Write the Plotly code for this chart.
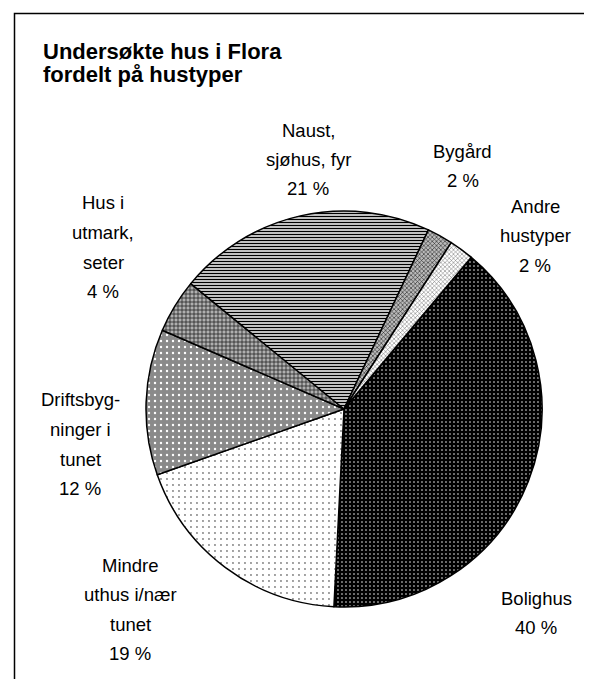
import plotly.graph_objects as go

W, H = 592, 679

# ---- data ----
categories = ["Bolighus", "Mindre\nuthus i/nær\ntunet", "Driftsbyg-\nninger i\ntunet",
              "Hus i\nutmark,\nseter", "Naust,\nsjøhus, fyr", "Bygård", "Andre\nhustyper"]
values = [39.7, 18.8, 11.9, 4.4, 21.1, 2.1, 2.0]
title_lines = ["Undersøkte hus i Flora", "fordelt på hustyper"]

# label anchor positions (pixels: x centre, y of first line)
label_pos = [(528, 590), (122, 557), (72, 392), (95, 195), (300, 122), (455, 143), (527, 198)]
line_gap = 29.5

patterns = [
    dict(shape=".", bgcolor="black", fgcolor="white", size=4, solidity=0.12),
    dict(shape=".", bgcolor="white", fgcolor="#808080", size=6, solidity=0.08),
    dict(shape=".", bgcolor="#8a8a8a", fgcolor="white", size=6, solidity=0.12),
    dict(shape="+", bgcolor="#b0b0b0", fgcolor="#202020", size=4, solidity=0.35),
    dict(shape="-", bgcolor="white", fgcolor="black", size=3, solidity=0.5),
    dict(shape="x", bgcolor="#bbbbbb", fgcolor="#202020", size=3, solidity=0.35),
    dict(shape="x", bgcolor="white", fgcolor="#666666", size=3, solidity=0.3),
]

# pie placement (pixels)
cx, cy, r = 336, 401, 198

fig = go.Figure()
fig.add_trace(go.Pie(
    labels=[c.replace("\n", " ") for c in categories],
    values=values,
    sort=False,
    direction="clockwise",
    rotation=40,
    textinfo="none",
    hoverinfo="label+percent",
    marker=dict(colors=[p["bgcolor"] for p in patterns],
                line=dict(color="black", width=1.5),
                pattern=dict(shape=[p["shape"] for p in patterns],
                             bgcolor=[p["bgcolor"] for p in patterns],
                             fgcolor=[p["fgcolor"] for p in patterns],
                             size=[p["size"] for p in patterns],
                             solidity=[p["solidity"] for p in patterns],
                             fillmode="replace")),
    domain=dict(x=[(cx - r) / W, (cx + r) / W], y=[1 - (cy + r) / H, 1 - (cy - r) / H]),
    showlegend=False,
))

anns = []
font = dict(family="Liberation Sans, Arial, sans-serif", size=18.5, color="black")
for cat, v, (px, py) in zip(categories, values, label_pos):
    lines = cat.split("\n") + [f"{round(v)} %"]
    for i, ln in enumerate(lines):
        anns.append(dict(x=px / W, y=1 - (py + i * line_gap) / H, xref="paper", yref="paper",
                         text=ln, showarrow=False, xanchor="center", yanchor="middle", font=font))

for i, t in enumerate(title_lines):
    anns.append(dict(x=33 / W, y=1 - (43 + i * 24) / H, xref="paper", yref="paper",
                     text=f"<b>{t}</b>", showarrow=False, xanchor="left", yanchor="middle",
                     font=dict(family="Liberation Sans, Arial, sans-serif", size=22, color="black")))

fig.update_layout(
    width=W, height=H,
    margin=dict(l=0, r=0, t=0, b=0),
    paper_bgcolor="white", plot_bgcolor="white",
    annotations=anns,
    shapes=[dict(type="rect", xref="paper", yref="paper", x0=6.5 / W, x1=1.05, y0=-0.05, y1=1 - 5.5 / H,
                 line=dict(color="black", width=1.5), fillcolor="rgba(0,0,0,0)")],
)

fig.write_html("out.html")
